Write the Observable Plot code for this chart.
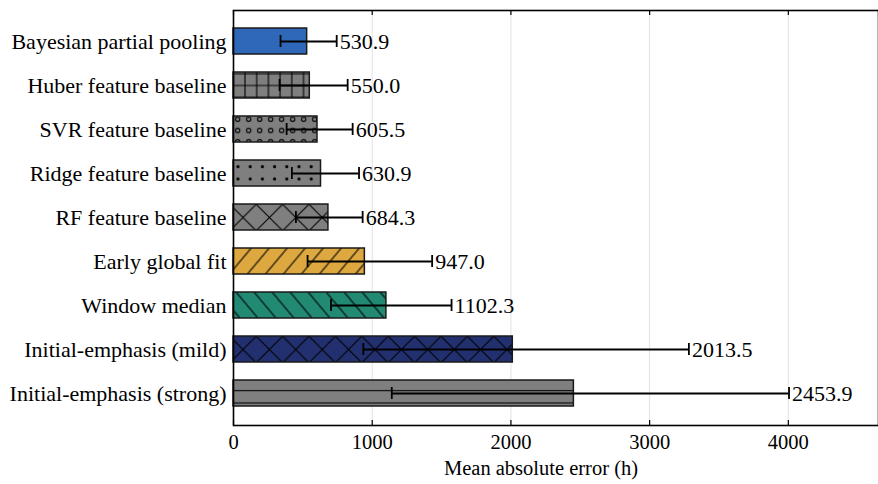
<!DOCTYPE html>
<html><head><meta charset="utf-8">
<script src="https://cdn.jsdelivr.net/npm/d3@7"></script>
<script src="https://cdn.jsdelivr.net/npm/@observablehq/plot@0.6"></script>
<style>body{margin:0;background:#fff}</style>
</head><body><div id="chart"></div>
<script>
const methods = ["Bayesian partial pooling", "Huber feature baseline", "SVR feature baseline", "Ridge feature baseline", "RF feature baseline", "Early global fit", "Window median", "Initial-emphasis (mild)", "Initial-emphasis (strong)"];
const mae = [530.9, 550.0, 605.5, 630.9, 684.3, 947.0, 1102.3, 2013.5, 2453.9];
const errLow = [339, 332, 383, 421, 450, 534, 703, 936, 1141];
const errHigh = [744, 823, 859, 905, 931, 1432, 1572, 3283, 4005];
const barColors = ["#2f68b8", "#7f7f7f", "#7f7f7f", "#7f7f7f", "#7f7f7f", "#dda83f", "#228a73", "#22306f", "#7f7f7f"];
const hatches = ["none", "plus", "circles", "dots", "cross", "slash", "backslash", "cross", "hline"];
const xTicks = [0, 1000, 2000, 3000, 4000];
const xLabel = "Mean absolute error (h)";

const rows = methods.map((m, i) => ({method: m, mae: mae[i], lo: errLow[i], hi: errHigh[i], color: barColors[i], hatch: hatches[i]}));

const svg = Plot.plot({
  width: 878, height: 484,
  marginLeft: 233, marginRight: 0, marginTop: 10, marginBottom: 59,
  style: {fontFamily: "'Liberation Serif', serif", fontSize: "20px", color: "#000", background: "#fff"},
  x: {domain: [0, 4650]},
  y: {domain: methods, paddingInner: 0.4, paddingOuter: 0.415},
  color: {type: "identity"},
  marks: [
    Plot.ruleX(xTicks.slice(1), {stroke: "#e2e2e2", strokeWidth: 1}),
    Plot.barX(rows, {x: "mae", y: "method", fill: "color"}),
    Plot.barX(rows.filter(d => d.hatch !== "none"), {x: "mae", y: "method", fill: d => `url(#h-${d.hatch})`}),
    Plot.barX(rows, {x: "mae", y: "method", fill: "none", stroke: "#1a1a1a", strokeWidth: 1.5}),
    Plot.ruleY(rows, {x1: "lo", x2: "hi", y: "method", stroke: "#000", strokeWidth: 1.8}),
    Plot.tickX(rows, {x: "lo", y: "method", stroke: "#000", strokeWidth: 1.8, insetTop: 7, insetBottom: 7}),
    Plot.tickX(rows, {x: "hi", y: "method", stroke: "#000", strokeWidth: 1.8, insetTop: 7, insetBottom: 7}),
    Plot.text(rows, {x: "hi", y: "method", text: d => d.mae.toFixed(1), textAnchor: "start", dx: 3, fontSize: 22, fill: "#000"}),
    Plot.axisY({tickSize: 0, tickPadding: 7, fontSize: 22, label: null}),
    Plot.axisX({ticks: xTicks, tickSize: 0, tickPadding: 9, fontSize: 20.5, label: null, tickFormat: d => String(d)}),
    Plot.ruleX(xTicks, {insetTop: 410, stroke: "#000", strokeWidth: 1.2}),
    Plot.ruleX(xTicks, {insetBottom: 410, stroke: "#000", strokeWidth: 1.2}),
    Plot.frame({stroke: "#000", strokeWidth: 1.6}),
    Plot.text([xLabel], {text: d => d, frameAnchor: "bottom", dy: 49, dx: -15, fontSize: 20.5, fill: "#000"})
  ]
});

const dg = 26.4;
const defsHtml = `
<pattern id="h-plus" patternUnits="userSpaceOnUse" width="11.7" height="11.7" x="239.15" y="79.65">
  <path d="M5.85,-1V12.7M-1,5.85H12.7" stroke="#000" stroke-width="1.1" fill="none"/>
</pattern>
<pattern id="h-hline" patternUnits="userSpaceOnUse" width="20" height="12.3" x="0" y="384.55">
  <path d="M-1,6.15H21" stroke="#000" stroke-width="1.1" fill="none"/>
</pattern>
<pattern id="h-circles" patternUnits="userSpaceOnUse" width="11" height="11.2" x="232.2" y="113.7">
  <circle cx="5.5" cy="5.6" r="2.2" stroke="#000" stroke-width="1" fill="none"/>
</pattern>
<pattern id="h-dots" patternUnits="userSpaceOnUse" width="12.2" height="12.3" x="231.9" y="160.55">
  <circle cx="6.1" cy="6.15" r="1.6" fill="#000"/>
</pattern>
<pattern id="h-cross" patternUnits="userSpaceOnUse" width="${dg}" height="${dg}" x="229.8" y="204.3">
  <path d="M-5,-5L${dg+5},${dg+5}M-5,${dg-5}L5,${dg+5}M${dg-5},-5L${dg+5},5M-5,${dg+5}L${dg+5},-5M-5,5L5,-5M${dg-5},${dg+5}L${dg+5},${dg-5}" stroke="#000" stroke-width="1.1" fill="none"/>
</pattern>
<pattern id="h-slash" patternUnits="userSpaceOnUse" width="13.8" height="13.8" patternTransform="rotate(40)">
  <path d="M6.9,-1V14.8" stroke="#000" stroke-width="1.1" fill="none"/>
</pattern>
<pattern id="h-backslash" patternUnits="userSpaceOnUse" width="13.8" height="13.8" patternTransform="rotate(-40)">
  <path d="M6.9,-1V14.8" stroke="#000" stroke-width="1.1" fill="none"/>
</pattern>`;
const defs = document.createElementNS("http://www.w3.org/2000/svg", "defs");
defs.innerHTML = defsHtml;
svg.insertBefore(defs, svg.firstChild);

document.getElementById("chart").appendChild(svg);
</script>
</body></html>
